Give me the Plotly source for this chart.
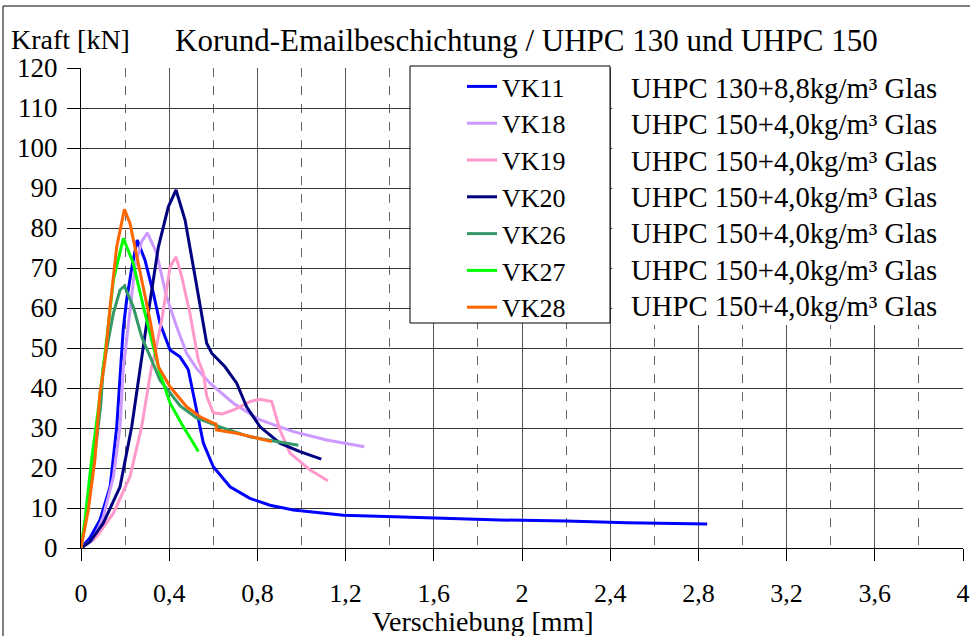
import plotly.graph_objects as go

# ---------------- data ----------------
names = ["VK11", "VK18", "VK19", "VK20", "VK26", "VK27", "VK28"]
descriptions = ["UHPC 130+8,8kg/m³ Glas", "UHPC 150+4,0kg/m³ Glas", "UHPC 150+4,0kg/m³ Glas",
                "UHPC 150+4,0kg/m³ Glas", "UHPC 150+4,0kg/m³ Glas", "UHPC 150+4,0kg/m³ Glas",
                "UHPC 150+4,0kg/m³ Glas"]
colors = ["#0000FF", "#CC99FF", "#FF99CC", "#000080", "#339966", "#00FF00", "#FF6600"]

vk11_x = [0, 0.04, 0.086, 0.132, 0.162, 0.184, 0.192, 0.207, 0.23, 0.255, 0.29, 0.328, 0.358, 0.404,
          0.449, 0.479, 0.487, 0.524, 0.555, 0.6, 0.676, 0.766, 0.857, 0.963, 1.19, 1.42, 1.67, 1.9,
          2.2, 2.475, 2.84]
vk11_y = [0, 2.5, 7, 15.3, 30.3, 47, 55, 62, 70, 77, 72, 63.7, 56.2, 49.5,
          47.8, 45.3, 44.5, 34.5, 26.2, 20.3, 15.3, 12.4, 10.7, 9.5, 8.2, 7.8, 7.4, 7.0,
          6.75, 6.3, 6.0]

vk18_x = [0, 0.056, 0.101, 0.147, 0.177, 0.192, 0.2, 0.222, 0.245, 0.275, 0.301, 0.343, 0.388, 0.434,
          0.479, 0.524, 0.585, 0.691, 0.812, 0.963, 1.114, 1.285]
vk18_y = [0, 2, 7.8, 17.8, 30.3, 45.3, 48.7, 58.7, 70.3, 76.6, 78.8, 73.7, 62.8, 55.3,
          48.7, 44.9, 41.2, 36.2, 32, 29.1, 27, 25.3]

vk19_x = [0, 0.071, 0.147, 0.222, 0.275, 0.32, 0.336, 0.366, 0.388, 0.404, 0.431, 0.457, 0.494, 0.532,
          0.555, 0.57, 0.6, 0.64, 0.691, 0.766, 0.812, 0.865, 0.902, 0.948, 1.039, 1.12]
vk19_y = [0, 2.8, 8.7, 17.8, 30.3, 45.3, 48.7, 57, 64.5, 70.3, 72.8, 67.8, 58.7, 47,
          43.7, 38, 33.8, 33.5, 34.5, 36.6, 37.2, 36.6, 29.5, 23.7, 19.5, 16.8]

vk20_x = [0, 0.041, 0.101, 0.177, 0.23, 0.268, 0.298, 0.351, 0.396, 0.431, 0.472, 0.52, 0.57, 0.593,
          0.653, 0.706, 0.751, 0.812, 0.902, 0.993, 1.09]
vk20_y = [0, 1.6, 6.2, 15.3, 30.3, 45.3, 56.2, 75.3, 85.3, 89.5, 82, 67, 51.2, 48.7,
          45.3, 41.2, 35.3, 30.3, 26.2, 24.1, 22.2]

vk26_x = [0, 0.03, 0.06, 0.09, 0.101, 0.147, 0.177, 0.197, 0.237, 0.275, 0.32, 0.358, 0.45, 0.524,
          0.63, 0.766, 0.887, 0.986]
vk26_y = [0, 10, 22, 36, 45.3, 58.7, 64.5, 65.5, 60.3, 52.8, 47, 42, 35.5, 32.5,
          30.3, 27.8, 26.6, 25.7]

vk27_x = [0, 0.018, 0.048, 0.078, 0.116, 0.147, 0.192, 0.237, 0.283, 0.328, 0.358, 0.404, 0.464, 0.51,
          0.532]
vk27_y = [0, 7, 22, 34.5, 52, 67, 77.4, 71.2, 60.3, 50.3, 43.7, 36.2, 30.3, 26.2,
          24.1]

vk28_x = [0, 0.033, 0.063, 0.086, 0.109, 0.132, 0.162, 0.197, 0.222, 0.268, 0.313, 0.351, 0.404, 0.479,
          0.54, 0.6, 0.612, 0.615, 0.706, 0.865]
vk28_y = [0, 9.5, 22, 38.7, 47, 60.3, 75.3, 84.7, 81.2, 68.7, 57, 45.3, 40.3, 35.3,
          32.8, 31.2, 31.0, 29.5, 28.7, 26.6]

series_x = [vk11_x, vk18_x, vk19_x, vk20_x, vk26_x, vk27_x, vk28_x]
series_y = [vk11_y, vk18_y, vk19_y, vk20_y, vk26_y, vk27_y, vk28_y]

x_ticks = [0, 0.4, 0.8, 1.2, 1.6, 2, 2.4, 2.8, 3.2, 3.6, 4]
x_tick_labels = ["0", "0,4", "0,8", "1,2", "1,6", "2", "2,4", "2,8", "3,2", "3,6", "4"]

title_text = "Korund-Emailbeschichtung / UHPC 130 und UHPC 150"
y_title = "Kraft [kN]"
x_title = "Verschiebung [mm]"

# ---------------- figure ----------------
FONT = "Liberation Serif, Times New Roman, serif"
W, H = 970, 636
L, R, T, B = 81, 7, 68, 88
pw, ph = W - L - R, H - T - B


def px(xp):
    return (xp - L) / pw


def py(yp):
    return (H - B - yp) / ph


fig = go.Figure()
for i, n in enumerate(names):
    fig.add_trace(go.Scatter(x=series_x[i], y=series_y[i], mode="lines", name=n,
                             legendgroup=n,
                             line=dict(color=colors[i], width=3)))

shapes = [
    # legend box
    dict(type="rect", xref="paper", yref="paper", x0=px(410), x1=px(610), y0=py(323), y1=py(66),
         fillcolor="white", line=dict(color="black", width=1), layer="above"),
    # description box (covers grid)
    dict(type="rect", xref="paper", yref="paper", x0=px(612), x1=px(967), y0=py(325), y1=py(64),
         fillcolor="white", line=dict(width=0), layer="above"),
    # outer frame
    dict(type="line", xref="paper", yref="paper", x0=px(3), x1=px(975), y0=py(6), y1=py(6),
         line=dict(color="black", width=1)),
    dict(type="line", xref="paper", yref="paper", x0=px(3), x1=px(3), y0=py(6), y1=py(640),
         line=dict(color="black", width=1)),
]

annotations = [
    dict(text=y_title, xref="paper", yref="paper", x=px(9), y=py(40), xanchor="left",
         yanchor="middle", showarrow=False, font=dict(family=FONT, size=28, color="black")),
    dict(text=x_title, xref="paper", yref="paper", x=px(483), y=py(621), xanchor="center",
         yanchor="middle", showarrow=False, font=dict(family=FONT, size=28, color="black")),
]
for i, d in enumerate(descriptions):
    annotations.append(dict(text=d, xref="paper", yref="paper", x=px(629), y=py(88 + i * 36.3),
                            xanchor="left", yanchor="middle", showarrow=False,
                            font=dict(family=FONT, size=28.7, color="black")))

fig.update_layout(
    width=W, height=H,
    margin=dict(l=L, r=R, t=T, b=B, autoexpand=False),
    paper_bgcolor="white", plot_bgcolor="white",
    title=dict(text=title_text, x=175 / W, xanchor="left", y=1 - 40 / H, yanchor="middle",
               font=dict(family=FONT, size=31, color="black")),
    font=dict(family=FONT, color="black"),
    showlegend=True,
    legend=dict(x=px(462), y=py(63), xanchor="left", yanchor="top", bgcolor="rgba(0,0,0,0)",
                borderwidth=0, font=dict(family=FONT, size=26, color="black"),
                tracegroupgap=0, itemwidth=30),
    shapes=shapes,
    annotations=annotations,
)

fig.update_xaxes(range=[0, 4], tickvals=x_ticks, ticktext=x_tick_labels,
                 showline=True, linecolor="black", linewidth=1,
                 ticks="outside", ticklen=12, tickcolor="black",
                 tickfont=dict(family=FONT, size=26, color="black"), ticklabelstandoff=10,
                 ticklabeloverflow="allow", automargin=False,
                 showgrid=True, gridcolor="#555555", gridwidth=1,
                 minor=dict(dtick=0.2, tick0=0, showgrid=True, gridcolor="#666666", griddash="dash",
                            gridwidth=1, ticks=""),
                 zeroline=False)
fig.update_yaxes(range=[0, 120], dtick=10, tick0=0, automargin=False,
                 showline=True, linecolor="black", linewidth=1,
                 ticks="outside", ticklen=13, tickcolor="black",
                 tickfont=dict(family=FONT, size=27, color="black"), ticklabelstandoff=4,
                 showgrid=True, gridcolor="#333333", gridwidth=1, zeroline=False)

fig.write_html("out.html", config={"displayModeBar": False},
               post_script="document.body.style.margin='0px';")
